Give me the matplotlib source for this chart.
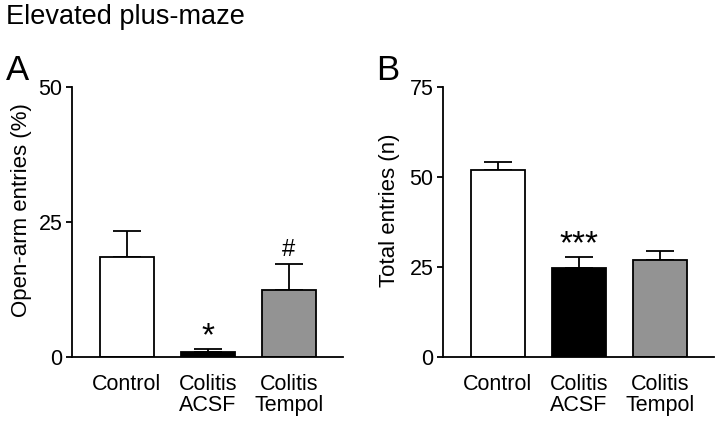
import matplotlib.pyplot as plt
import numpy as np

plt.rcParams['font.family'] = ['Liberation Sans', 'DejaVu Sans']

groups = ["Control", "Colitis\nACSF", "Colitis\nTempol"]
colors = ["white", "black", "#939393"]

open_arm = [18.5, 1.0, 12.4]
open_arm_err = [4.8, 0.5, 4.9]
open_arm_marks = ["", "*", "#"]

total = [52.1, 24.8, 27.0]
total_err = [2.2, 3.1, 2.4]
total_marks = ["", "***", ""]

fig = plt.figure(figsize=(7.21, 4.28), dpi=100)
ax1 = fig.add_axes([0.0992, 0.1659, 0.3766, 0.6297])
ax2 = fig.add_axes([0.614, 0.1659, 0.3763, 0.6297])

fig.text(0.008, 0.99, "Elevated plus-maze", fontsize=19.5, va="top", ha="left")
fig.text(0.008, 0.813, "A", fontsize=25, va="baseline", ha="left")
fig.text(0.521, 0.813, "B", fontsize=25, va="baseline", ha="left")


def panel(ax, vals, errs, marks, ymax, yticks, ylabel, xlim, label_x):
    x = np.arange(len(vals))
    ax.bar(x, vals, width=0.667, color=colors, edgecolor="black", linewidth=1.3, zorder=2)
    ax.errorbar(x, vals, yerr=[np.zeros(len(errs)), errs], fmt="none", ecolor="black",
                elinewidth=1.3, capsize=10, capthick=1.3, zorder=1)
    for xi, v, e, m in zip(x, vals, errs, marks):
        if m:
            fs = 17 if m == "#" else 24
            off = 1.7 if m == "#" else -2.5
            ax.annotate(m, (xi, v + e), xytext=(0, off), textcoords="offset points",
                        ha="center", va="bottom", fontsize=fs)
    ax.set_ylim(0, ymax)
    ax.set_xlim(*xlim)
    ax.set_yticks(yticks)
    ax.set_xticks(x)
    ax.set_xticklabels(groups, fontsize=15.5, linespacing=1.0)
    ax.tick_params(axis="y", labelsize=15.5, length=4.5, width=1.3, pad=2)
    ax.tick_params(axis="x", length=0, pad=12.5)
    ax.set_ylabel(ylabel, fontsize=16)
    ax.yaxis.set_label_coords(label_x, 0.544)
    for s in ["top", "right"]:
        ax.spines[s].set_visible(False)
    for s in ["left", "bottom"]:
        ax.spines[s].set_linewidth(1.3)
        ax.spines[s].set_clip_on(False)


panel(ax1, open_arm, open_arm_err, open_arm_marks, 50, [0, 25, 50],
      "Open-arm entries (%)", (-0.685, 2.67), -0.144)
panel(ax2, total, total_err, total_marks, 75, [0, 25, 50, 75],
      "Total entries (n)", (-0.677, 2.67), -0.159)

fig.savefig("out.png", dpi=100)
